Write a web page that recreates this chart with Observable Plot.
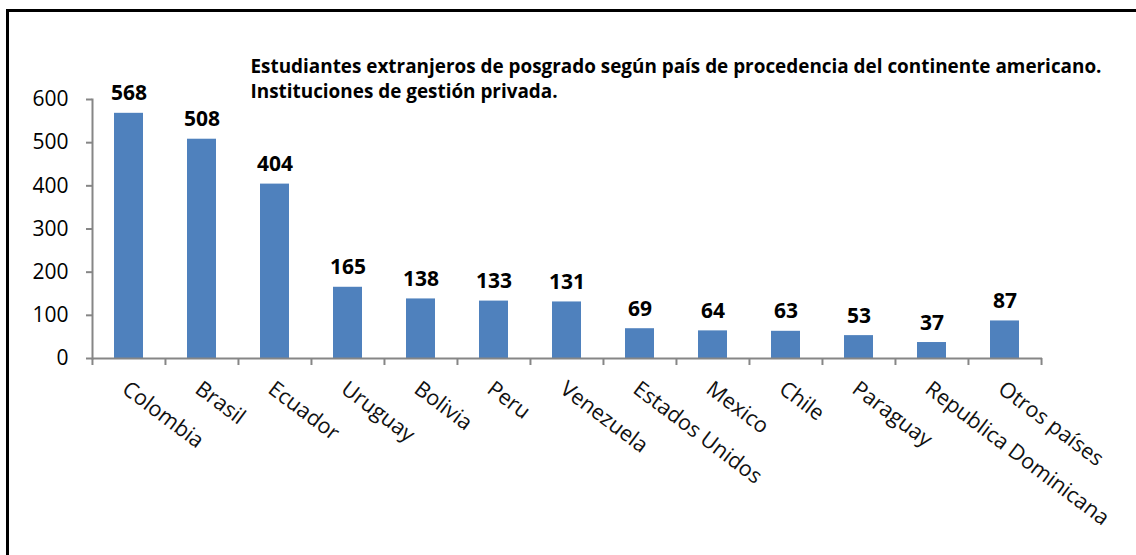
<!DOCTYPE html>
<html>
<head>
<meta charset="utf-8">
<script src="https://cdn.jsdelivr.net/npm/d3@7"></script>
<script src="https://cdn.jsdelivr.net/npm/@observablehq/plot@0.6"></script>
<style>
  body { margin: 0; background: #fff; }
  #wrap { position: relative; width: 1136px; height: 555px; overflow: hidden; }
  #border { position: absolute; left: 6px; top: 9px; right: -10px; bottom: -10px; border-top: 3px solid #000; border-left: 3px solid #000; pointer-events: none; }
</style>
</head>
<body>
<div id="wrap"><div id="border"></div></div>
<script>
const countries = ["Colombia", "Brasil", "Ecuador", "Uruguay", "Bolivia", "Peru", "Venezuela", "Estados Unidos", "Mexico", "Chile", "Paraguay", "Republica Dominicana", "Otros países"];
const students = [568, 508, 404, 165, 138, 133, 131, 69, 64, 63, 53, 37, 87];
const yTicks = [0, 100, 200, 300, 400, 500, 600];
const titleLines = ["Estudiantes extranjeros de posgrado según país de procedencia del continente americano.", "Instituciones de gestión privada."];

const data = countries.map((c, i) => ({country: c, value: students[i]}));

const W = 1136, H = 555;
const mL = 92, mR = 94, mT = 99, mB = 197;
const step = (W - mL - mR) / countries.length;
const font = "'Open Sans', Lato, sans-serif";
const axisColor = "#868686";

const chart = Plot.plot({
  width: W,
  height: H,
  marginLeft: mL,
  marginRight: mR,
  marginTop: mT,
  marginBottom: mB,
  style: {fontFamily: font, background: "transparent", overflow: "visible"},
  x: {domain: countries, paddingInner: 0.6, paddingOuter: 0.3, axis: null},
  y: {domain: [0, 600], axis: null},
  marks: [
    Plot.barY(data, {x: "country", y: "value", fill: "#4F81BD"}),
    Plot.ruleY([0], {stroke: axisColor, strokeWidth: 2}),
    Plot.frame({anchor: "left", stroke: axisColor, strokeWidth: 2}),
    Plot.axisY(yTicks, {label: null, tickSize: 6, tickPadding: 18, stroke: axisColor, strokeWidth: 2, fontSize: 21, fill: "#000", tickFormat: d => d}),
    Plot.axisX(countries, {label: null, tickSize: 7, dx: -step / 2, stroke: axisColor, strokeWidth: 2, tickFormat: () => ""}),
    Plot.axisX([countries[countries.length - 1]], {label: null, tickSize: 7, dx: step / 2, stroke: axisColor, strokeWidth: 2, tickFormat: () => ""}),
    Plot.text(data, {x: "country", y: "value", text: d => String(d.value), lineAnchor: "bottom", dy: -13, fontSize: 21, fontWeight: "bold", fill: "#000"}),
    Plot.text(countries, {x: d => d, frameAnchor: "bottom", rotate: 37, textAnchor: "start", lineAnchor: "top", dx: 1, dy: 21, fontSize: 21.5, fill: "#111"}),
    Plot.text([titleLines.join("\n")], {frameAnchor: "top-left", textAnchor: "start", lineAnchor: "top", dx: 158, dy: -44, lineHeight: 1.32, fontSize: 18.9, fontWeight: "bold", fill: "#000"})
  ]
});
document.getElementById("wrap").prepend(chart);
</script>
</body>
</html>
